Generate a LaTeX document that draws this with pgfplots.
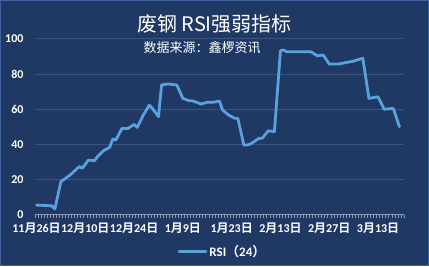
\documentclass[border=0pt]{standalone}
\usepackage{fontspec}
\setmainfont{Carlito}
\newfontfamily\cjk{Noto Sans CJK SC}[BoldFont={Noto Sans CJK SC Bold}]
\usepackage{pgfplots}
\pgfplotsset{compat=1.18}
\definecolor{bg}{HTML}{1F3864}
\definecolor{gridc}{HTML}{3A5582}
\definecolor{linec}{HTML}{5AA2DE}
\definecolor{borderc}{HTML}{3F63A0}
\definecolor{tickc}{HTML}{8D9AB3}
\begin{document}
\begin{tikzpicture}[x=1pt,y=1pt]
\fill[bg] (0,0) rectangle (429,266);
\draw[borderc, line width=1.2pt] (0.6,0.6) rectangle (428.4,265.4);
\useasboundingbox (0,0) rectangle (429,266);
\node[text=white, font=\cjk\fontsize{20}{20}\selectfont] at (214.5,242) {废钢 RSI强弱指标};
\node[text=white, font=\cjk\fontsize{13}{13}\selectfont] at (202,218.5) {数据来源：鑫椤资讯};
\begin{axis}[
  at={(35pt,51.3pt)}, anchor=south west,
  scale only axis, width=369pt, height=176pt,
  xmin=-0.5, xmax=120.5, ymin=0, ymax=100,
  axis x line*=bottom, axis y line*=left,
  y axis line style={draw=none},
  x axis line style={tickc, line width=0.8pt, -},
  ytick={0,20,...,100},
  ymajorgrids, grid style={gridc, line width=0.8pt},
  xtick={0,16,...,112},
  xticklabels={11{\cjk 月}26{\cjk 日},12{\cjk 月}10{\cjk 日},12{\cjk 月}24{\cjk 日},1{\cjk 月}9{\cjk 日},1{\cjk 月}23{\cjk 日},2{\cjk 月}13{\cjk 日},2{\cjk 月}27{\cjk 日},3{\cjk 月}13{\cjk 日}},
  minor xtick={-0.5,0.5,...,120.5},
  major tick length=0pt, minor tick length=3pt,
  xtick align=outside,
  minor tick style={tickc, line width=0.6pt},
  /pgf/number format/assume math mode=true,
  yticklabel style={text=white, font=\bfseries\fontsize{12}{12}\selectfont, xshift=-8pt},
  xticklabel style={text=white, font=\bfseries\fontsize{12}{12}\selectfont, yshift=-5pt},
  legend style={draw=none, fill=none, text=white, font=\bfseries\fontsize{13}{13}\selectfont,
    at={(axis description cs:0.5,0)}, anchor=center, yshift=-37pt, xshift=3pt},
  legend image code/.code={\draw[#1, line width=2.8pt] (0pt,0pt) -- (27pt,0pt);},
]
\addplot[linec, line width=2.8pt, line join=round, line cap=round] coordinates {
(0,5.5)(5,5.0)(6,3.2)(8,18.8)(11,22.5)(14,27.3)(15,26.4)(17,31)(19,30.7)(20,33)(22,36.4)(24,38.3)(25,43)(26,42.4)(28,49)(30,49)(32,51.3)(33,49.6)(35,56.6)(37,62.3)(38,60.4)(40,55.7)(41,73.7)(43,74.3)(46,73.7)(48,66.1)(50,64.8)(51,64.8)(54,62.9)(56,63.9)(58,63.9)(60,64.6)(61,59.5)(63,56.6)(65,54.8)(66,54.8)(68,39.6)(69,39.6)(70,40)(73,43.4)(74,43.4)(76,47.7)(78,47.2)(80,93.2)(81,93.6)(82,92.6)(90,92.6)(92,90.3)(94,90.7)(96,85.6)(99,85.6)(104,87.3)(107,88.9)(109,66.1)(112,67)(114,59.9)(117,60.4)(119,50)
};
\addlegendentry{RSI{\cjk （}24{\cjk ）}}
\end{axis}
\end{tikzpicture}
\end{document}
